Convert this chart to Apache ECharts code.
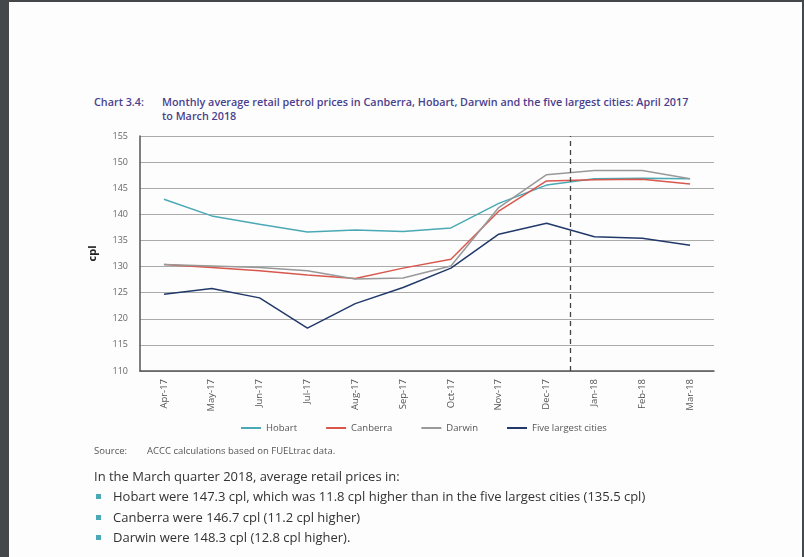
<!DOCTYPE html>
<html>
<head>
<meta charset="utf-8">
<script src="https://cdn.jsdelivr.net/npm/echarts@6/dist/echarts.min.js"></script>
<style>
  html, body { margin: 0; padding: 0; }
  body { width: 804px; height: 557px; background: #45484b; position: relative; overflow: hidden; font-family: "Open Sans", sans-serif; }
  .page { position: absolute; left: 9px; top: 2px; width: 793px; height: 555px; background: #fdfdfd; }
  #chart { position: absolute; left: 0; top: 0; width: 804px; height: 557px; }
  .title { position: absolute; top: 95px; left: 94px; color: #4a3f8e; font-weight: 600; font-size: 10.8px; line-height: 14px; }
  .title .num { position: absolute; left: 0; top: 0; white-space: nowrap; }
  .title .txt { position: absolute; left: 68px; top: 0; width: 534px; }
  .source { position: absolute; top: 444px; left: 94px; font-size: 9.5px; color: #555; }
  .source span { position: absolute; left: 53px; white-space: nowrap; }
  .para { position: absolute; left: 94px; top: 467px; font-size: 13px; color: #333; white-space: nowrap; }
  .bullet { position: absolute; left: 94px; font-size: 13px; color: #333; white-space: nowrap; }
  .bullet i { position: absolute; left: 2px; top: 7px; width: 5px; height: 5px; background: #4aa9b5; }
  .bullet span { position: absolute; left: 19px; top: 0; }
</style>
</head>
<body>
<div class="page"></div>
<div class="title"><span class="num">Chart 3.4:</span><span class="txt">Monthly average retail petrol prices in Canberra, Hobart, Darwin and the five largest cities: April 2017 to March 2018</span></div>
<div id="chart"></div>
<div class="source">Source:<span>ACCC calculations based on FUELtrac data.</span></div>
<div class="para">In the March quarter 2018, average retail prices in:</div>
<div class="bullet" style="top:487px"><i></i><span>Hobart were 147.3 cpl, which was 11.8 cpl higher than in the five largest cities (135.5 cpl)</span></div>
<div class="bullet" style="top:508px"><i></i><span>Canberra were 146.7 cpl (11.2 cpl higher)</span></div>
<div class="bullet" style="top:528px"><i></i><span>Darwin were 148.3 cpl (12.8 cpl higher).</span></div>
<script>
// monthly averages, cents per litre
const months = ['Apr-17', 'May-17', 'Jun-17', 'Jul-17', 'Aug-17', 'Sep-17', 'Oct-17', 'Nov-17', 'Dec-17', 'Jan-18', 'Feb-18', 'Mar-18'];
const hobart = [142.9, 139.7, 138.1, 136.6, 137.0, 136.7, 137.4, 142.1, 145.6, 146.8, 146.9, 146.8];
const canberra = [130.4, 129.8, 129.2, 128.4, 127.7, 129.7, 131.4, 140.6, 146.4, 146.6, 146.7, 145.8];
const darwin = [130.4, 130.1, 129.8, 129.2, 127.6, 127.8, 130.1, 141.3, 147.6, 148.4, 148.4, 146.8];
const fiveLargest = [124.7, 125.8, 124.0, 118.2, 122.9, 126.0, 129.7, 136.2, 138.3, 135.7, 135.4, 134.1];
// dashed divider sits on the boundary before Jan-18 (band index)
const dividerAt = 9;

const chart = echarts.init(document.getElementById('chart'));

function line(name, data, color) {
  return {
    name: name,
    type: 'line',
    data: data,
    symbol: 'none',
    lineStyle: { color: color, width: 1.5 },
    itemStyle: { color: color }
  };
}

chart.setOption({
  animation: false,
  textStyle: { fontFamily: 'Open Sans' },
  grid: { left: 140, top: 136, width: 574, height: 235 },
  legend: {
    left: 236,
    top: 418,
    icon: 'rect',
    itemWidth: 20,
    itemHeight: 2,
    itemGap: 29,
    textStyle: { fontSize: 9.5, color: '#555' },
    data: ['Hobart', 'Canberra', 'Darwin', 'Five largest cities']
  },
  xAxis: [{
    type: 'category',
    data: months,
    axisLine: { lineStyle: { color: '#555', width: 1.5 } },
    axisTick: { show: false },
    axisLabel: { rotate: 90, fontSize: 9.5, color: '#555', margin: 8 },
    splitLine: { show: false }
  }, {
    // band-scale helper for the divider line
    type: 'value',
    min: 0,
    max: months.length,
    show: false
  }],
  yAxis: {
    type: 'value',
    min: 110,
    max: 155,
    interval: 5,
    name: 'cpl',
    nameLocation: 'middle',
    nameRotate: 90,
    nameGap: 42,
    nameTextStyle: { fontWeight: 'bold', fontSize: 11, color: '#222' },
    axisLine: { show: true, lineStyle: { color: '#555', width: 1.5 } },
    axisTick: { show: false },
    axisLabel: { fontSize: 9, color: '#666', margin: 12 },
    splitLine: { lineStyle: { color: '#aaa', width: 1 } }
  },
  series: [
    line('Hobart', hobart, '#4aa9b5'),
    line('Canberra', canberra, '#d9574c'),
    line('Darwin', darwin, '#999999'),
    line('Five largest cities', fiveLargest, '#22396b'),
    {
      type: 'line',
      xAxisIndex: 1,
      data: [],
      markLine: {
        silent: true,
        symbol: 'none',
        label: { show: false },
        lineStyle: { color: '#444', type: [5, 4], width: 1.3 },
        data: [{ xAxis: dividerAt }]
      }
    }
  ]
});
</script>
</body>
</html>
